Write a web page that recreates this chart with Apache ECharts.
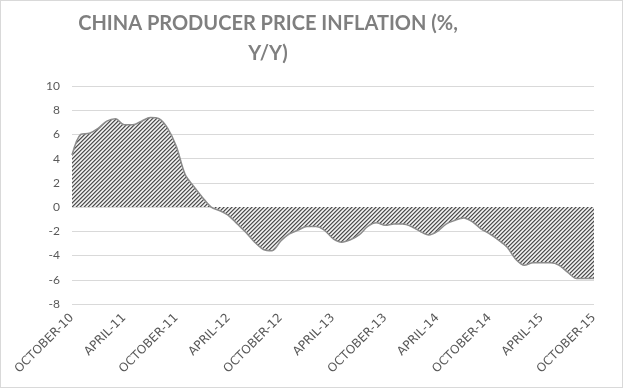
<!DOCTYPE html>
<html><head><meta charset="utf-8">
<script src="https://cdn.jsdelivr.net/npm/echarts@6/dist/echarts.min.js"></script>
<style>
html,body{margin:0;padding:0;background:#fff;}
#c{width:623px;height:388px;box-sizing:border-box;border:1px solid #d9d9d9;}
</style></head>
<body><div id="c"></div>
<script>
var months = ["OCTOBER-10","NOVEMBER-10","DECEMBER-10",
"JANUARY-11","FEBRUARY-11","MARCH-11","APRIL-11","MAY-11","JUNE-11","JULY-11","AUGUST-11","SEPTEMBER-11","OCTOBER-11","NOVEMBER-11","DECEMBER-11",
"JANUARY-12","FEBRUARY-12","MARCH-12","APRIL-12","MAY-12","JUNE-12","JULY-12","AUGUST-12","SEPTEMBER-12","OCTOBER-12","NOVEMBER-12","DECEMBER-12",
"JANUARY-13","FEBRUARY-13","MARCH-13","APRIL-13","MAY-13","JUNE-13","JULY-13","AUGUST-13","SEPTEMBER-13","OCTOBER-13","NOVEMBER-13","DECEMBER-13",
"JANUARY-14","FEBRUARY-14","MARCH-14","APRIL-14","MAY-14","JUNE-14","JULY-14","AUGUST-14","SEPTEMBER-14","OCTOBER-14","NOVEMBER-14","DECEMBER-14",
"JANUARY-15","FEBRUARY-15","MARCH-15","APRIL-15","MAY-15","JUNE-15","JULY-15","AUGUST-15","SEPTEMBER-15","OCTOBER-15"];
var ppi = [4.3,6.0,6.1,
6.5,7.1,7.3,6.8,6.8,7.1,7.4,7.3,6.5,5.0,2.7,1.7,
0.8,0.0,-0.3,-0.7,-1.4,-2.1,-2.9,-3.5,-3.6,-2.8,-2.2,-1.9,
-1.6,-1.6,-1.9,-2.6,-2.9,-2.7,-2.3,-1.6,-1.3,-1.5,-1.4,-1.4,
-1.6,-2.0,-2.3,-2.0,-1.4,-1.1,-0.9,-1.2,-1.8,-2.2,-2.7,-3.3,
-4.3,-4.8,-4.6,-4.6,-4.6,-4.8,-5.4,-5.9,-5.9,-5.9];
var title = "CHINA PRODUCER PRICE INFLATION (%,\nY/Y)";

// hatch pattern
var pc = document.createElement('canvas');
pc.width = 4; pc.height = 4;
var px = pc.getContext('2d');
for (var x = 0; x < 4; x++) for (var y = 0; y < 4; y++) {
  var k = (x + y) % 4;
  px.fillStyle = (k === 0) ? '#505050' : (k === 1 ? '#9a9a9a' : (k===3 ? '#d0d0d0':'#f2f2f2'));
  px.fillRect(x, y, 1, 1);
}

var chart = echarts.init(document.getElementById('c'));
chart.setOption({
  animation: false,
  title: {
    text: title, left: 262, top: 3, textAlign: 'center',
    textStyle: {fontFamily: 'Lato', fontWeight: 'bold', fontSize: 20, color: '#7f7f7f', lineHeight: 30}
  },
  grid: {left: 71, right: 28, top: 85, bottom: 83},
  xAxis: {
    type: 'category', data: months, boundaryGap: false,
    axisLine: {show: false}, axisTick: {show: false},
    axisLabel: {interval: 5, rotate: 45, margin: 12, color: '#595959', fontFamily: '"DejaVu Sans"', fontSize: 12}
  },
  yAxis: {
    type: 'value', min: -8, max: 10, interval: 2,
    axisLine: {show: false}, axisTick: {show: false},
    axisLabel: {color: '#595959', fontFamily: 'Lato', fontSize: 12, margin: 12},
    splitLine: {lineStyle: {color: '#d9d9d9', width: 1}}
  },
  series: [{
    type: 'line', data: ppi, smooth: 0.3, symbol: 'none',
    lineStyle: {color: '#8c8c8c', width: 1.5},
    areaStyle: {color: {image: pc, repeat: 'repeat'}, opacity: 1}
  }]
});
</script></body></html>
